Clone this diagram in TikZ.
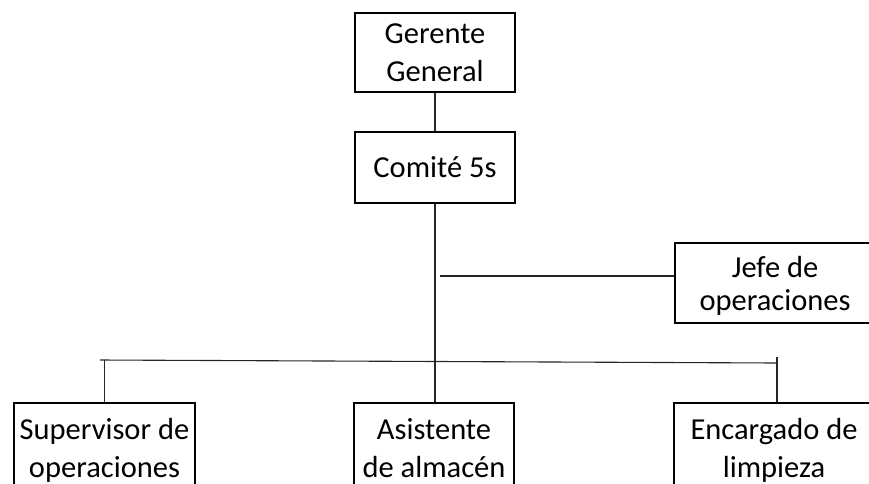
\documentclass[tikz,border=0pt]{standalone}
\usepackage{fontspec}
\setmainfont{Carlito}
\usetikzlibrary{positioning}

\begin{document}
\begin{tikzpicture}[x=1pt, y=-1pt,
  box/.style={draw, line width=2.6pt, align=center, inner sep=0pt,
    text depth=0pt, font=\fontsize{30.5}{37.5}\selectfont},
  wire/.style={line width=1.1pt, black!85}
]
% Page frame (boxes at the bottom and right are cut by it)
\clip (0,0) rectangle (869,483);

% Top of the chart
\node[box, minimum width=160pt, minimum height=79pt] (gerente) at (435,52.5) {Gerente\\General};
\node[box, minimum width=160pt, minimum height=71pt] (comite) at (435,167.5) {Comité 5s};

% Staff position on the right
\node[box, minimum width=200pt, minimum height=80pt,
  font=\fontsize{30.5}{33}\selectfont] (jefe) at (775,283) {Jefe de\\operaciones};

% Bottom row
\node[box, minimum width=181pt, minimum height=90pt] (supervisor) at (104.5,448) {Supervisor de\\operaciones};
\node[box, minimum width=160pt, minimum height=90pt] (asistente) at (434,448) {Asistente\\de almacén};
\node[box, minimum width=200pt, minimum height=90pt] (encargado) at (774,448) {Encargado de\\limpieza};

% Bus and tap points
\coordinate (busL) at (100,360);
\coordinate (busR) at (778,363);
\coordinate (jefeTap) at (440,276);
\coordinate (encTop) at (777,357);

% Draw wires
\draw[wire] (gerente) -- (comite);
\draw[wire] (comite.south) -- (comite.south |- asistente.north);
\draw[wire] (jefeTap) -- (jefeTap -| jefe.west);
\draw[wire] (busL) -- (busR);
\draw[wire] (supervisor.north) -- (supervisor.north |- busL);
\draw[wire] (encTop) -- (encTop |- encargado.north);
\end{tikzpicture}
\end{document}
